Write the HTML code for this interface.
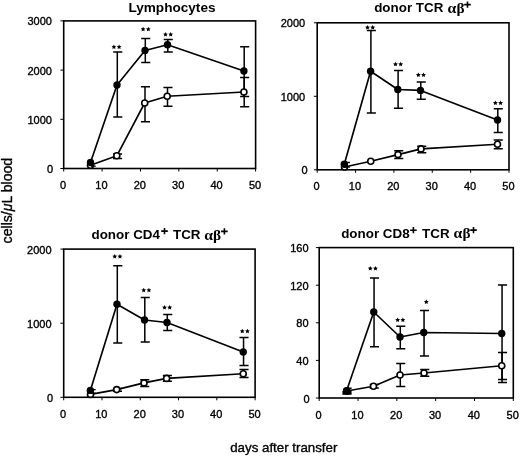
<!DOCTYPE html><html><head><meta charset="utf-8"><style>html,body{margin:0;padding:0;background:#fff;width:520px;height:456px;overflow:hidden}svg{display:block;filter:grayscale(1)}text{font-family:"Liberation Sans",sans-serif;fill:#000}.t{font-size:11px;stroke:#000;stroke-width:0.35px}.h{font-size:13px;font-weight:bold}.a{stroke:#000;stroke-width:0.35px}.g{font-family:"Liberation Serif",serif;font-weight:bold}</style></head><body>
<svg width="520" height="456" viewBox="0 0 520 456">
<g><rect x="63.7" y="20.9" width="191.90" height="147.60" fill="none" stroke="#000" stroke-width="1.6"/><line x1="60.40" y1="168.50" x2="63.70" y2="168.50" stroke="#000" stroke-width="1"/><text class="t" x="53.10" y="173.00" text-anchor="end">0</text><line x1="60.40" y1="119.30" x2="63.70" y2="119.30" stroke="#000" stroke-width="1"/><text class="t" x="51.90" y="123.80" text-anchor="end">1000</text><line x1="60.40" y1="70.10" x2="63.70" y2="70.10" stroke="#000" stroke-width="1"/><text class="t" x="51.90" y="74.60" text-anchor="end">2000</text><line x1="60.40" y1="20.90" x2="63.70" y2="20.90" stroke="#000" stroke-width="1"/><text class="t" x="51.90" y="25.40" text-anchor="end">3000</text><line x1="63.70" y1="168.50" x2="63.70" y2="171.50" stroke="#000" stroke-width="1"/><text class="t" x="63.10" y="189.10" text-anchor="middle">0</text><line x1="102.08" y1="168.50" x2="102.08" y2="171.50" stroke="#000" stroke-width="1"/><text class="t" x="101.48" y="189.10" text-anchor="middle">10</text><line x1="140.46" y1="168.50" x2="140.46" y2="171.50" stroke="#000" stroke-width="1"/><text class="t" x="139.86" y="189.10" text-anchor="middle">20</text><line x1="178.84" y1="168.50" x2="178.84" y2="171.50" stroke="#000" stroke-width="1"/><text class="t" x="178.24" y="189.10" text-anchor="middle">30</text><line x1="217.22" y1="168.50" x2="217.22" y2="171.50" stroke="#000" stroke-width="1"/><text class="t" x="216.62" y="189.10" text-anchor="middle">40</text><line x1="255.60" y1="168.50" x2="255.60" y2="171.50" stroke="#000" stroke-width="1"/><text class="t" x="255.00" y="189.10" text-anchor="middle">50</text></g>
<polyline points="90.5,165.2 116.8,155.8 144.7,103 167.2,96.3 243.9,92" fill="none" stroke="#000" stroke-width="1.65" stroke-linejoin="round"/>
<polyline points="90.5,162.5 117,85 145,50.5 167.5,44.8 243.9,71" fill="none" stroke="#000" stroke-width="1.65" stroke-linejoin="round"/>
<path d="M117.10,154.10V158.50M113.00,154.10H122.10M113.00,158.50H122.10" stroke="#000" stroke-width="1.5" fill="none"/>
<path d="M145.00,86.80V121.80M140.90,86.80H150.00M140.90,121.80H150.00" stroke="#000" stroke-width="1.5" fill="none"/>
<path d="M167.50,87.50V106.20M163.40,87.50H172.50M163.40,106.20H172.50" stroke="#000" stroke-width="1.5" fill="none"/>
<path d="M244.20,77.50V106.70M240.10,77.50H249.20M240.10,106.70H249.20" stroke="#000" stroke-width="1.5" fill="none"/>
<path d="M117.30,52.00V117.00M113.20,52.00H122.30M113.20,117.00H122.30" stroke="#000" stroke-width="1.5" fill="none"/>
<path d="M145.30,38.50V62.50M141.20,38.50H150.30M141.20,62.50H150.30" stroke="#000" stroke-width="1.5" fill="none"/>
<path d="M167.80,39.40V51.90M163.70,39.40H172.80M163.70,51.90H172.80" stroke="#000" stroke-width="1.5" fill="none"/>
<path d="M244.20,46.80V96.50M240.10,46.80H249.20M240.10,96.50H249.20" stroke="#000" stroke-width="1.5" fill="none"/>
<circle cx="90.5" cy="165.2" r="3.0" fill="#fff" stroke="#000" stroke-width="1.6"/>
<circle cx="116.8" cy="155.8" r="3.0" fill="#fff" stroke="#000" stroke-width="1.6"/>
<circle cx="144.7" cy="103" r="3.0" fill="#fff" stroke="#000" stroke-width="1.6"/>
<circle cx="167.2" cy="96.3" r="3.0" fill="#fff" stroke="#000" stroke-width="1.6"/>
<circle cx="243.9" cy="92" r="3.0" fill="#fff" stroke="#000" stroke-width="1.6"/>
<circle cx="90.5" cy="162.5" r="3.7" fill="#000"/>
<circle cx="117" cy="85" r="3.7" fill="#000"/>
<circle cx="145" cy="50.5" r="3.7" fill="#000"/>
<circle cx="167.5" cy="44.8" r="3.7" fill="#000"/>
<circle cx="243.9" cy="71" r="3.7" fill="#000"/>
<polygon points="113.90,44.40 114.63,45.89 116.28,46.13 115.09,47.29 115.37,48.92 113.90,48.15 112.43,48.92 112.71,47.29 111.52,46.13 113.17,45.89" fill="#000"/><polygon points="119.10,44.40 119.83,45.89 121.48,46.13 120.29,47.29 120.57,48.92 119.10,48.15 117.63,48.92 117.91,47.29 116.72,46.13 118.37,45.89" fill="#000"/>
<polygon points="143.10,26.70 143.83,28.19 145.48,28.43 144.29,29.59 144.57,31.22 143.10,30.45 141.63,31.22 141.91,29.59 140.72,28.43 142.37,28.19" fill="#000"/><polygon points="148.30,26.70 149.03,28.19 150.68,28.43 149.49,29.59 149.77,31.22 148.30,30.45 146.83,31.22 147.11,29.59 145.92,28.43 147.57,28.19" fill="#000"/>
<polygon points="165.50,31.90 166.23,33.39 167.88,33.63 166.69,34.79 166.97,36.42 165.50,35.65 164.03,36.42 164.31,34.79 163.12,33.63 164.77,33.39" fill="#000"/><polygon points="170.70,31.90 171.43,33.39 173.08,33.63 171.89,34.79 172.17,36.42 170.70,35.65 169.23,36.42 169.51,34.79 168.32,33.63 169.97,33.39" fill="#000"/>
<path d="M91,166.2H95.7" stroke="#000" stroke-width="1.3"/>
<text class="h" x="128.4" y="11.5" style="font-size:13.6px">Lymphocytes</text>
<g><rect x="317.2" y="22.8" width="191.80" height="147.00" fill="none" stroke="#000" stroke-width="1.6"/><line x1="313.90" y1="169.80" x2="317.20" y2="169.80" stroke="#000" stroke-width="1"/><text class="t" x="307.70" y="174.30" text-anchor="end">0</text><line x1="313.90" y1="96.30" x2="317.20" y2="96.30" stroke="#000" stroke-width="1"/><text class="t" x="305.20" y="100.80" text-anchor="end">1000</text><line x1="313.90" y1="22.80" x2="317.20" y2="22.80" stroke="#000" stroke-width="1"/><text class="t" x="305.20" y="27.30" text-anchor="end">2000</text><line x1="317.20" y1="169.80" x2="317.20" y2="172.80" stroke="#000" stroke-width="1"/><text class="t" x="316.60" y="190.40" text-anchor="middle">0</text><line x1="355.56" y1="169.80" x2="355.56" y2="172.80" stroke="#000" stroke-width="1"/><text class="t" x="354.96" y="190.40" text-anchor="middle">10</text><line x1="393.92" y1="169.80" x2="393.92" y2="172.80" stroke="#000" stroke-width="1"/><text class="t" x="393.32" y="190.40" text-anchor="middle">20</text><line x1="432.28" y1="169.80" x2="432.28" y2="172.80" stroke="#000" stroke-width="1"/><text class="t" x="431.68" y="190.40" text-anchor="middle">30</text><line x1="470.64" y1="169.80" x2="470.64" y2="172.80" stroke="#000" stroke-width="1"/><text class="t" x="470.04" y="190.40" text-anchor="middle">40</text><line x1="509.00" y1="169.80" x2="509.00" y2="172.80" stroke="#000" stroke-width="1"/><text class="t" x="508.40" y="190.40" text-anchor="middle">50</text></g>
<polyline points="344.5,167 370.75,161.25 398.0,154.6 421.0,148.9 497.5,144.25" fill="none" stroke="#000" stroke-width="1.65" stroke-linejoin="round"/>
<polyline points="344.3,164.2 370.6,71.2 397.8,89.5 420.5,90.4 497.5,120" fill="none" stroke="#000" stroke-width="1.65" stroke-linejoin="round"/>
<path d="M398.30,150.80V158.40M394.20,150.80H403.30M394.20,158.40H403.30" stroke="#000" stroke-width="1.5" fill="none"/>
<path d="M421.30,146.30V152.70M417.20,146.30H426.30M417.20,152.70H426.30" stroke="#000" stroke-width="1.5" fill="none"/>
<path d="M497.80,140.00V148.75M493.70,140.00H502.80M493.70,148.75H502.80" stroke="#000" stroke-width="1.5" fill="none"/>
<path d="M370.90,30.40V112.90M366.80,30.40H375.90M366.80,112.90H375.90" stroke="#000" stroke-width="1.5" fill="none"/>
<path d="M398.10,70.50V108.20M394.00,70.50H403.10M394.00,108.20H403.10" stroke="#000" stroke-width="1.5" fill="none"/>
<path d="M420.80,81.90V99.25M416.70,81.90H425.80M416.70,99.25H425.80" stroke="#000" stroke-width="1.5" fill="none"/>
<path d="M497.80,108.75V132.50M493.70,108.75H502.80M493.70,132.50H502.80" stroke="#000" stroke-width="1.5" fill="none"/>
<circle cx="344.5" cy="167" r="3.0" fill="#fff" stroke="#000" stroke-width="1.6"/>
<circle cx="370.75" cy="161.25" r="3.0" fill="#fff" stroke="#000" stroke-width="1.6"/>
<circle cx="398.0" cy="154.6" r="3.0" fill="#fff" stroke="#000" stroke-width="1.6"/>
<circle cx="421.0" cy="148.9" r="3.0" fill="#fff" stroke="#000" stroke-width="1.6"/>
<circle cx="497.5" cy="144.25" r="3.0" fill="#fff" stroke="#000" stroke-width="1.6"/>
<circle cx="344.3" cy="164.2" r="3.7" fill="#000"/>
<circle cx="370.6" cy="71.2" r="3.7" fill="#000"/>
<circle cx="397.8" cy="89.5" r="3.7" fill="#000"/>
<circle cx="420.5" cy="90.4" r="3.7" fill="#000"/>
<circle cx="497.5" cy="120" r="3.7" fill="#000"/>
<polygon points="367.50,25.00 368.23,26.49 369.88,26.73 368.69,27.89 368.97,29.52 367.50,28.75 366.03,29.52 366.31,27.89 365.12,26.73 366.77,26.49" fill="#000"/><polygon points="372.70,25.00 373.43,26.49 375.08,26.73 373.89,27.89 374.17,29.52 372.70,28.75 371.23,29.52 371.51,27.89 370.32,26.73 371.97,26.49" fill="#000"/>
<polygon points="395.50,61.80 396.23,63.29 397.88,63.53 396.69,64.69 396.97,66.32 395.50,65.55 394.03,66.32 394.31,64.69 393.12,63.53 394.77,63.29" fill="#000"/><polygon points="400.70,61.80 401.43,63.29 403.08,63.53 401.89,64.69 402.17,66.32 400.70,65.55 399.23,66.32 399.51,64.69 398.32,63.53 399.97,63.29" fill="#000"/>
<polygon points="418.30,72.55 419.03,74.04 420.68,74.28 419.49,75.44 419.77,77.07 418.30,76.30 416.83,77.07 417.11,75.44 415.92,74.28 417.57,74.04" fill="#000"/><polygon points="423.50,72.55 424.23,74.04 425.88,74.28 424.69,75.44 424.97,77.07 423.50,76.30 422.03,77.07 422.31,75.44 421.12,74.28 422.77,74.04" fill="#000"/>
<polygon points="495.35,100.55 496.08,102.04 497.73,102.28 496.54,103.44 496.82,105.07 495.35,104.30 493.88,105.07 494.16,103.44 492.97,102.28 494.62,102.04" fill="#000"/><polygon points="500.55,100.55 501.28,102.04 502.93,102.28 501.74,103.44 502.02,105.07 500.55,104.30 499.08,105.07 499.36,103.44 498.17,102.28 499.82,102.04" fill="#000"/>
<path d="M345,162.5H349.9M345,167.1H349.9" stroke="#000" stroke-width="1.5"/>
<text class="h" x="374.2" y="12.3" style="font-size:13.4px">donor TCR</text>
<text class="g" x="0" y="0" transform="translate(447.60,12.60) scale(1.12,1)" style="font-size:14px">&#945;</text>
<text class="g" x="0" y="0" transform="translate(456.60,12.60) scale(1.1,1)" style="font-size:14px">&#946;</text>
<path d="M464.20,4.60H470.80M467.50,1.50V7.70" stroke="#000" stroke-width="1.6"/>
<g><rect x="63.7" y="249.1" width="191.40" height="148.20" fill="none" stroke="#000" stroke-width="1.6"/><line x1="60.40" y1="397.30" x2="63.70" y2="397.30" stroke="#000" stroke-width="1"/><text class="t" x="53.10" y="401.80" text-anchor="end">0</text><line x1="60.40" y1="323.20" x2="63.70" y2="323.20" stroke="#000" stroke-width="1"/><text class="t" x="51.60" y="327.70" text-anchor="end">1000</text><line x1="60.40" y1="249.10" x2="63.70" y2="249.10" stroke="#000" stroke-width="1"/><text class="t" x="51.60" y="253.60" text-anchor="end">2000</text><line x1="63.70" y1="397.30" x2="63.70" y2="400.30" stroke="#000" stroke-width="1"/><text class="t" x="63.10" y="417.50" text-anchor="middle">0</text><line x1="101.98" y1="397.30" x2="101.98" y2="400.30" stroke="#000" stroke-width="1"/><text class="t" x="101.38" y="417.50" text-anchor="middle">10</text><line x1="140.26" y1="397.30" x2="140.26" y2="400.30" stroke="#000" stroke-width="1"/><text class="t" x="139.66" y="417.50" text-anchor="middle">20</text><line x1="178.54" y1="397.30" x2="178.54" y2="400.30" stroke="#000" stroke-width="1"/><text class="t" x="177.94" y="417.50" text-anchor="middle">30</text><line x1="216.82" y1="397.30" x2="216.82" y2="400.30" stroke="#000" stroke-width="1"/><text class="t" x="216.22" y="417.50" text-anchor="middle">40</text><line x1="255.10" y1="397.30" x2="255.10" y2="400.30" stroke="#000" stroke-width="1"/><text class="t" x="254.50" y="417.50" text-anchor="middle">50</text></g>
<polyline points="90.5,394.4 116.7,389.6 144.0,382.9 166.6,378.4 243.25,373.75" fill="none" stroke="#000" stroke-width="1.65" stroke-linejoin="round"/>
<polyline points="90.35,390.4 117,304.25 144.5,320 167,322.5 243.25,352" fill="none" stroke="#000" stroke-width="1.65" stroke-linejoin="round"/>
<path d="M117.00,388.60V391.20M112.90,388.60H122.00M112.90,391.20H122.00" stroke="#000" stroke-width="1.5" fill="none"/>
<path d="M144.30,379.70V386.40M140.20,379.70H149.30M140.20,386.40H149.30" stroke="#000" stroke-width="1.5" fill="none"/>
<path d="M166.90,375.40V381.20M162.80,375.40H171.90M162.80,381.20H171.90" stroke="#000" stroke-width="1.5" fill="none"/>
<path d="M243.55,369.50V377.50M239.45,369.50H248.55M239.45,377.50H248.55" stroke="#000" stroke-width="1.5" fill="none"/>
<path d="M117.30,265.75V343.00M113.20,265.75H122.30M113.20,343.00H122.30" stroke="#000" stroke-width="1.5" fill="none"/>
<path d="M144.80,297.50V342.00M140.70,297.50H149.80M140.70,342.00H149.80" stroke="#000" stroke-width="1.5" fill="none"/>
<path d="M167.30,314.50V330.50M163.20,314.50H172.30M163.20,330.50H172.30" stroke="#000" stroke-width="1.5" fill="none"/>
<path d="M243.55,337.50V365.50M239.45,337.50H248.55M239.45,365.50H248.55" stroke="#000" stroke-width="1.5" fill="none"/>
<circle cx="90.5" cy="394.4" r="3.0" fill="#fff" stroke="#000" stroke-width="1.6"/>
<circle cx="116.7" cy="389.6" r="3.0" fill="#fff" stroke="#000" stroke-width="1.6"/>
<circle cx="144.0" cy="382.9" r="3.0" fill="#fff" stroke="#000" stroke-width="1.6"/>
<circle cx="166.6" cy="378.4" r="3.0" fill="#fff" stroke="#000" stroke-width="1.6"/>
<circle cx="243.25" cy="373.75" r="3.0" fill="#fff" stroke="#000" stroke-width="1.6"/>
<circle cx="90.35" cy="390.4" r="3.7" fill="#000"/>
<circle cx="117" cy="304.25" r="3.7" fill="#000"/>
<circle cx="144.5" cy="320" r="3.7" fill="#000"/>
<circle cx="167" cy="322.5" r="3.7" fill="#000"/>
<circle cx="243.25" cy="352" r="3.7" fill="#000"/>
<polygon points="114.75,254.10 115.48,255.59 117.13,255.83 115.94,256.99 116.22,258.62 114.75,257.85 113.28,258.62 113.56,256.99 112.37,255.83 114.02,255.59" fill="#000"/><polygon points="119.95,254.10 120.68,255.59 122.33,255.83 121.14,256.99 121.42,258.62 119.95,257.85 118.48,258.62 118.76,256.99 117.57,255.83 119.22,255.59" fill="#000"/>
<polygon points="143.70,287.65 144.43,289.14 146.08,289.38 144.89,290.54 145.17,292.17 143.70,291.40 142.23,292.17 142.51,290.54 141.32,289.38 142.97,289.14" fill="#000"/><polygon points="148.90,287.65 149.63,289.14 151.28,289.38 150.09,290.54 150.37,292.17 148.90,291.40 147.43,292.17 147.71,290.54 146.52,289.38 148.17,289.14" fill="#000"/>
<polygon points="164.50,305.00 165.23,306.49 166.88,306.73 165.69,307.89 165.97,309.52 164.50,308.75 163.03,309.52 163.31,307.89 162.12,306.73 163.77,306.49" fill="#000"/><polygon points="169.70,305.00 170.43,306.49 172.08,306.73 170.89,307.89 171.17,309.52 169.70,308.75 168.23,309.52 168.51,307.89 167.32,306.73 168.97,306.49" fill="#000"/>
<polygon points="242.25,328.65 242.98,330.14 244.63,330.38 243.44,331.54 243.72,333.17 242.25,332.40 240.78,333.17 241.06,331.54 239.87,330.38 241.52,330.14" fill="#000"/><polygon points="247.45,328.65 248.18,330.14 249.83,330.38 248.64,331.54 248.92,333.17 247.45,332.40 245.98,333.17 246.26,331.54 245.07,330.38 246.72,330.14" fill="#000"/>
<path d="M91,389.7H95.7M91,393.2H95.7" stroke="#000" stroke-width="1.3"/>
<text class="h" x="91.5" y="238.7" style="font-size:13.4px">donor CD4</text>
<path d="M161.20,231.10H167.80M164.50,228.00V234.20" stroke="#000" stroke-width="1.6"/>
<text class="h" x="173.0" y="238.9" style="font-size:13.4px">TCR</text>
<text class="g" x="0" y="0" transform="translate(204.30,239.60) scale(1.12,1)" style="font-size:14px">&#945;</text>
<text class="g" x="0" y="0" transform="translate(213.00,239.60) scale(1.1,1)" style="font-size:14px">&#946;</text>
<path d="M221.10,231.40H227.70M224.40,228.30V234.50" stroke="#000" stroke-width="1.6"/>
<g><rect x="319.2" y="247.6" width="194.10" height="150.40" fill="none" stroke="#000" stroke-width="1.6"/><line x1="315.90" y1="398.00" x2="319.20" y2="398.00" stroke="#000" stroke-width="1"/><text class="t" x="309.70" y="402.50" text-anchor="end">0</text><line x1="315.90" y1="360.40" x2="319.20" y2="360.40" stroke="#000" stroke-width="1"/><text class="t" x="308.60" y="364.90" text-anchor="end">40</text><line x1="315.90" y1="322.80" x2="319.20" y2="322.80" stroke="#000" stroke-width="1"/><text class="t" x="308.60" y="327.30" text-anchor="end">80</text><line x1="315.90" y1="285.20" x2="319.20" y2="285.20" stroke="#000" stroke-width="1"/><text class="t" x="308.60" y="289.70" text-anchor="end">120</text><line x1="315.90" y1="247.60" x2="319.20" y2="247.60" stroke="#000" stroke-width="1"/><text class="t" x="308.60" y="252.10" text-anchor="end">160</text><line x1="319.20" y1="398.00" x2="319.20" y2="401.00" stroke="#000" stroke-width="1"/><text class="t" x="318.60" y="419.10" text-anchor="middle">0</text><line x1="358.02" y1="398.00" x2="358.02" y2="401.00" stroke="#000" stroke-width="1"/><text class="t" x="357.42" y="419.10" text-anchor="middle">10</text><line x1="396.84" y1="398.00" x2="396.84" y2="401.00" stroke="#000" stroke-width="1"/><text class="t" x="396.24" y="419.10" text-anchor="middle">20</text><line x1="435.66" y1="398.00" x2="435.66" y2="401.00" stroke="#000" stroke-width="1"/><text class="t" x="435.06" y="419.10" text-anchor="middle">30</text><line x1="474.48" y1="398.00" x2="474.48" y2="401.00" stroke="#000" stroke-width="1"/><text class="t" x="473.88" y="419.10" text-anchor="middle">40</text><line x1="513.30" y1="398.00" x2="513.30" y2="401.00" stroke="#000" stroke-width="1"/><text class="t" x="512.70" y="419.10" text-anchor="middle">50</text></g>
<polyline points="346.75,391.0 373.5,386.25 400,375 424,373 501.75,365.75" fill="none" stroke="#000" stroke-width="1.65" stroke-linejoin="round"/>
<polyline points="346.6,390.8 373.75,312 400,337 423.75,332.5 501.75,333.5" fill="none" stroke="#000" stroke-width="1.65" stroke-linejoin="round"/>
<path d="M373.80,384.50V388.00M369.70,384.50H378.80M369.70,388.00H378.80" stroke="#000" stroke-width="1.5" fill="none"/>
<path d="M400.30,363.50V386.50M396.20,363.50H405.30M396.20,386.50H405.30" stroke="#000" stroke-width="1.5" fill="none"/>
<path d="M424.30,369.50V376.25M420.20,369.50H429.30M420.20,376.25H429.30" stroke="#000" stroke-width="1.5" fill="none"/>
<path d="M502.05,352.50V379.50M497.95,352.50H507.05M497.95,379.50H507.05" stroke="#000" stroke-width="1.5" fill="none"/>
<path d="M374.05,278.00V346.75M369.95,278.00H379.05M369.95,346.75H379.05" stroke="#000" stroke-width="1.5" fill="none"/>
<path d="M400.30,326.25V348.75M396.20,326.25H405.30M396.20,348.75H405.30" stroke="#000" stroke-width="1.5" fill="none"/>
<path d="M424.05,310.50V356.00M419.95,310.50H429.05M419.95,356.00H429.05" stroke="#000" stroke-width="1.5" fill="none"/>
<path d="M502.05,285.00V382.50M497.95,285.00H507.05M497.95,382.50H507.05" stroke="#000" stroke-width="1.5" fill="none"/>
<circle cx="346.75" cy="391.0" r="3.0" fill="#fff" stroke="#000" stroke-width="1.6"/>
<circle cx="373.5" cy="386.25" r="3.0" fill="#fff" stroke="#000" stroke-width="1.6"/>
<circle cx="400" cy="375" r="3.0" fill="#fff" stroke="#000" stroke-width="1.6"/>
<circle cx="424" cy="373" r="3.0" fill="#fff" stroke="#000" stroke-width="1.6"/>
<circle cx="501.75" cy="365.75" r="3.0" fill="#fff" stroke="#000" stroke-width="1.6"/>
<circle cx="346.6" cy="390.8" r="3.7" fill="#000"/>
<circle cx="373.75" cy="312" r="3.7" fill="#000"/>
<circle cx="400" cy="337" r="3.7" fill="#000"/>
<circle cx="423.75" cy="332.5" r="3.7" fill="#000"/>
<circle cx="501.75" cy="333.5" r="3.7" fill="#000"/>
<polygon points="370.25,266.00 370.98,267.49 372.63,267.73 371.44,268.89 371.72,270.52 370.25,269.75 368.78,270.52 369.06,268.89 367.87,267.73 369.52,267.49" fill="#000"/><polygon points="375.45,266.00 376.18,267.49 377.83,267.73 376.64,268.89 376.92,270.52 375.45,269.75 373.98,270.52 374.26,268.89 373.07,267.73 374.72,267.49" fill="#000"/>
<polygon points="397.65,317.50 398.38,318.99 400.03,319.23 398.84,320.39 399.12,322.02 397.65,321.25 396.18,322.02 396.46,320.39 395.27,319.23 396.92,318.99" fill="#000"/><polygon points="402.85,317.50 403.58,318.99 405.23,319.23 404.04,320.39 404.32,322.02 402.85,321.25 401.38,322.02 401.66,320.39 400.47,319.23 402.12,318.99" fill="#000"/>
<polygon points="426.30,299.60 427.03,301.09 428.68,301.33 427.49,302.49 427.77,304.12 426.30,303.35 424.83,304.12 425.11,302.49 423.92,301.33 425.57,301.09" fill="#000"/>
<path d="M342.4,391H351.6V394.8H342.4Z" fill="#000"/><path d="M347,388.2H351.6" stroke="#000" stroke-width="1.5"/>
<text class="h" x="341.2" y="237.9" style="font-size:13.4px">donor CD8</text>
<path d="M410.10,230.20H416.70M413.40,227.10V233.30" stroke="#000" stroke-width="1.6"/>
<text class="h" x="422.1" y="237.9" style="font-size:13.4px">TCR</text>
<text class="g" x="0" y="0" transform="translate(453.60,238.10) scale(1.12,1)" style="font-size:14px">&#945;</text>
<text class="g" x="0" y="0" transform="translate(462.40,238.10) scale(1.1,1)" style="font-size:14px">&#946;</text>
<path d="M470.20,230.10H476.80M473.50,227.00V233.20" stroke="#000" stroke-width="1.6"/>
<text class="a" x="0" y="0" style="font-size:14.1px" transform="translate(11.5,200.6) rotate(-90)" text-anchor="middle">cells/<tspan style="font-style:italic">&#956;</tspan>L blood</text>
<text class="a" x="283.8" y="451.8" style="font-size:13.3px" text-anchor="middle">days after transfer</text>
</svg></body></html>
